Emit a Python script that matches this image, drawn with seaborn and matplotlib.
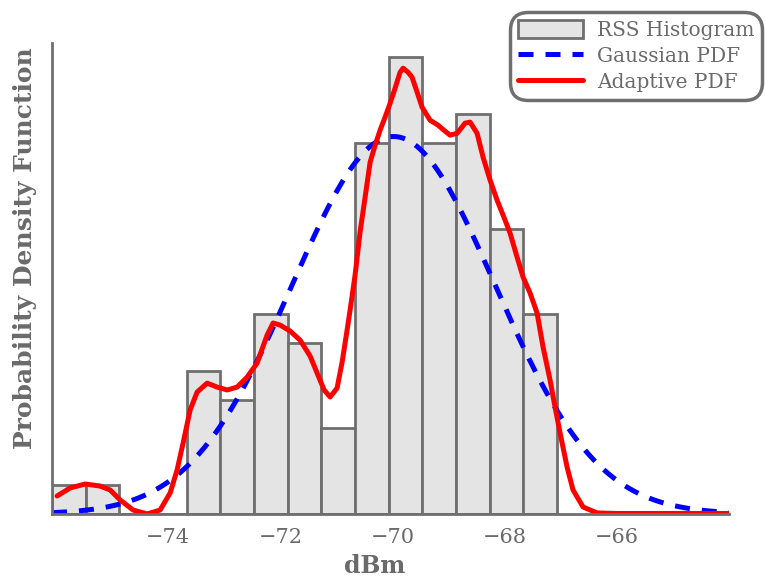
import numpy as np
import pandas as pd
import matplotlib
matplotlib.use("Agg")
import matplotlib.pyplot as plt
import seaborn as sns
from matplotlib.patches import Patch
from matplotlib.lines import Line2D

# RSS histogram: bin edges (dBm) and sample counts per bin
bin_edges = [-76.07, -75.47, -74.87, -74.27, -73.67, -73.07, -72.47, -71.87,
             -71.27, -70.67, -70.07, -69.47, -68.87, -68.27, -67.67, -67.07]
bin_counts = [1, 1, 0, 0, 5, 4, 7, 6, 3, 13, 16, 13, 14, 10, 7]

# Gaussian fit parameters
gauss_mean = -69.98
gauss_std = 1.81

# Adaptive (kernel) density estimate
adaptive_x = [-75.98, -75.747, -75.479, -75.212, -75.034, -74.856, -74.624, -74.374,
              -74.143, -73.964, -73.840, -73.733, -73.608, -73.483, -73.305, -73.127,
              -72.948, -72.770, -72.592, -72.414, -72.235, -72.128, -72.004, -71.825,
              -71.647, -71.469, -71.344, -71.219, -71.112, -70.988, -70.898, -70.809,
              -70.756, -70.667, -70.578, -70.488, -70.399, -70.310, -70.221, -70.132,
              -70.043, -69.954, -69.865, -69.811, -69.722, -69.651, -69.561, -69.472,
              -69.330, -69.187, -69.062, -68.973, -68.848, -68.706, -68.617, -68.492,
              -68.385, -68.260, -68.135, -67.993, -67.904, -67.779, -67.672, -67.547,
              -67.422, -67.316, -67.191, -67.102, -67.012, -66.888, -66.781, -66.603,
              -66.353, -65.996, -64.0]
adaptive_y = [0.0105, 0.0152, 0.0175, 0.0163, 0.0140, 0.0082, 0.0023, 0.0000,
              0.0023, 0.0123, 0.0257, 0.0414, 0.0607, 0.0712, 0.0764, 0.0741,
              0.0724, 0.0741, 0.0799, 0.0881, 0.1045, 0.1115, 0.1103, 0.1068,
              0.1015, 0.0922, 0.0823, 0.0724, 0.0683, 0.0735, 0.0887, 0.1074,
              0.1190, 0.1395, 0.1646, 0.1850, 0.2054, 0.2153, 0.2241, 0.2317,
              0.2398, 0.2486, 0.2579, 0.2603, 0.2579, 0.2550, 0.2463, 0.2375,
              0.2299, 0.2270, 0.2235, 0.2212, 0.2223, 0.2282, 0.2288, 0.2223,
              0.2083, 0.1949, 0.1832, 0.1716, 0.1640, 0.1500, 0.1383, 0.1290,
              0.1173, 0.0975, 0.0782, 0.0624, 0.0473, 0.0274, 0.0140, 0.0041,
              0.0006, 0.0003, 0.0003]

x_ticks = [-74, -72, -70, -68, -66]
x_limits = (-76.07, -64.0)
y_limits = (0, 0.275)

sns.set_style("white")
plt.rcParams["font.family"] = ["DejaVu Serif"]
plt.rcParams["axes.unicode_minus"] = True

GRAY = "#6f6f6f"
TEXT = "#6a6a6a"

fig = plt.figure(figsize=(7.65, 5.86), dpi=100)
ax = fig.add_axes([0.068, 0.1229, 0.885, 0.8037])

centers = [(a + b) / 2 for a, b in zip(bin_edges[:-1], bin_edges[1:])]
hist_df = pd.DataFrame({"rss": centers, "count": bin_counts})
sns.histplot(data=hist_df, x="rss", weights="count", bins=list(bin_edges), stat="density",
             color="#e4e4e4", edgecolor=GRAY, linewidth=2.0, alpha=1.0, ax=ax)

gx = np.linspace(x_limits[0], x_limits[1], 400)
gy = np.exp(-0.5 * ((gx - gauss_mean) / gauss_std) ** 2) / (gauss_std * np.sqrt(2 * np.pi))
gauss_df = pd.DataFrame({"x": gx, "y": gy})
sns.lineplot(data=gauss_df, x="x", y="y", color="#0000ff", linewidth=3.6,
             estimator=None, ax=ax)
ax.lines[-1].set_dashes((3.0, 2.4))

adapt_df = pd.DataFrame({"x": adaptive_x, "y": adaptive_y})
sns.lineplot(data=adapt_df, x="x", y="y", color="#ff0000", linewidth=3.6,
             estimator=None, sort=False, ax=ax)
ax.lines[-1].set_solid_joinstyle("round")
ax.lines[-1].set_solid_capstyle("round")

ax.set_xlim(*x_limits)
ax.set_ylim(*y_limits)
ax.set_xticks(x_ticks)
ax.set_yticks([])
ax.tick_params(axis="x", direction="in", length=4, width=1.2, color="#333333",
               labelsize=15, labelcolor=TEXT, pad=10)

for side in ("top", "right"):
    ax.spines[side].set_visible(False)
for side in ("left", "bottom"):
    ax.spines[side].set_color(GRAY)
    ax.spines[side].set_linewidth(2.0)

ax.set_xlabel("dBm", fontsize=17, fontweight="bold", color=TEXT)
ax.xaxis.set_label_coords(0.477, -0.085)
ax.set_ylabel("Probability Density Function", fontsize=18, fontweight="bold", color=TEXT)
ax.yaxis.set_label_coords(-0.022, 0.565)

handles = [
    Patch(facecolor="#e4e4e4", edgecolor=GRAY, linewidth=2.0, label="RSS Histogram"),
    Line2D([], [], color="#0000ff", linewidth=3.6, dashes=(3.0, 2.4), label="Gaussian PDF"),
    Line2D([], [], color="#ff0000", linewidth=3.6, label="Adaptive PDF"),
]
leg = fig.legend(handles=handles, loc="upper left", bbox_to_anchor=(0.667, 0.98),
                 borderaxespad=0.0, fontsize=14.5, frameon=True, fancybox=True,
                 handlelength=3.2, handleheight=1.0, labelspacing=0.32, borderpad=0.4,
                 handletextpad=0.7, labelcolor=TEXT)
leg._legend_box.align = "left"
frame = leg.get_frame()
frame.set_edgecolor(GRAY)
frame.set_linewidth(2.5)
frame.set_facecolor("white")
frame.set_alpha(1.0)
frame.set_boxstyle("round", pad=0, rounding_size=0.9)

fig.savefig("out.png", dpi=100)
